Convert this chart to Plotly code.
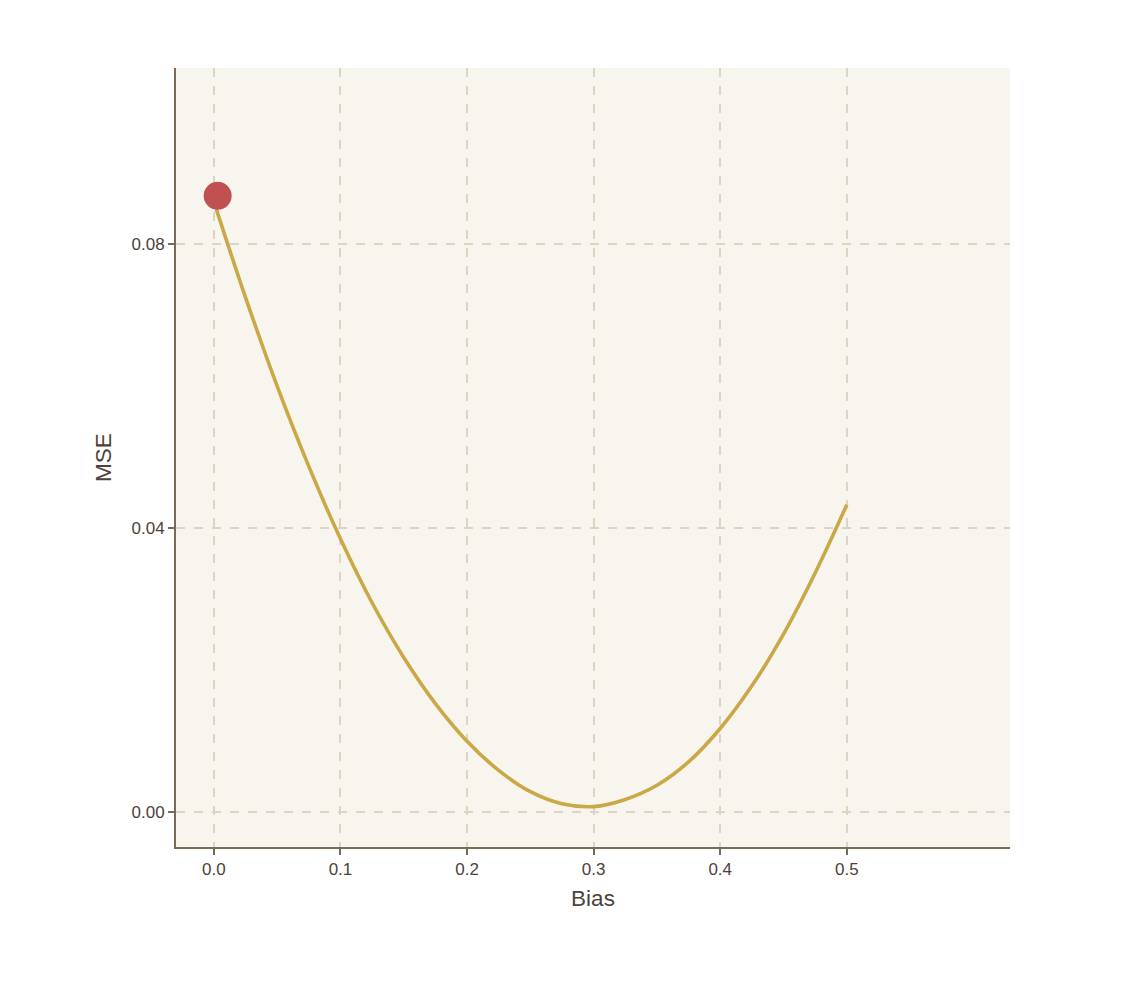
import plotly.graph_objects as go

# Data
bias = [0.002, 0.025, 0.05, 0.075, 0.1, 0.125, 0.15, 0.175, 0.2, 0.225, 0.25,
        0.275, 0.3, 0.325, 0.35, 0.375, 0.4, 0.425, 0.45, 0.475, 0.5]
mse = [0.0849, 0.0725, 0.0600, 0.0487, 0.0385, 0.0295, 0.0218, 0.0153, 0.0100,
       0.0059, 0.0029, 0.0012, 0.0008, 0.0018, 0.0038, 0.0071, 0.0118, 0.0178,
       0.0251, 0.0337, 0.0433]
point_bias = [0.003]
point_mse = [0.0868]

x_ticks = [0.0, 0.1, 0.2, 0.3, 0.4, 0.5]
x_tick_text = ["0.0", "0.1", "0.2", "0.3", "0.4", "0.5"]
y_ticks = [0.00, 0.04, 0.08]
y_tick_text = ["0.00", "0.04", "0.08"]

axis_col = "#7A6A58"
text_col = "#4D4239"
grid_col = "#DDD5C3"
font_fam = "Liberation Sans, Arial, sans-serif"

fig = go.Figure()
fig.add_trace(go.Scatter(x=bias, y=mse, mode="lines",
                         line=dict(color="#C9A845", width=3.6, shape="spline", smoothing=1.0),
                         showlegend=False, hoverinfo="skip"))
fig.add_trace(go.Scatter(x=point_bias, y=point_mse, mode="markers",
                         marker=dict(color="#C05150", size=28, line=dict(width=0)),
                         showlegend=False))

fig.update_layout(
    width=1135, height=1000,
    margin=dict(l=168, r=133, t=60, b=161),
    paper_bgcolor="white",
    plot_bgcolor="#F8F5EF",
    font=dict(family=font_fam, color=text_col, size=17),
)
fig.update_xaxes(
    range=[-0.0299, 0.6289],
    tickvals=x_ticks, ticktext=x_tick_text,
    showline=True, linecolor=axis_col, linewidth=2,
    ticks="outside", ticklen=6, tickwidth=2, tickcolor=axis_col,
    showgrid=True, gridcolor=grid_col, gridwidth=1.5, griddash="dash",
    zeroline=False,
    tickfont=dict(size=17, color=text_col),
    title=dict(text="Bias", font=dict(size=22.5, color=text_col), standoff=12),
)
fig.update_yaxes(
    range=[-0.00489, 0.1048],
    tickvals=y_ticks, ticktext=y_tick_text,
    showline=True, linecolor=axis_col, linewidth=2,
    ticks="outside", ticklen=6, tickwidth=2, tickcolor=axis_col,
    showgrid=True, gridcolor=grid_col, gridwidth=1.5, griddash="dash",
    zeroline=False,
    tickfont=dict(size=17, color=text_col),
    title=dict(text="MSE", font=dict(size=22.5, color=text_col), standoff=14),
)

fig.write_html("out.html")
